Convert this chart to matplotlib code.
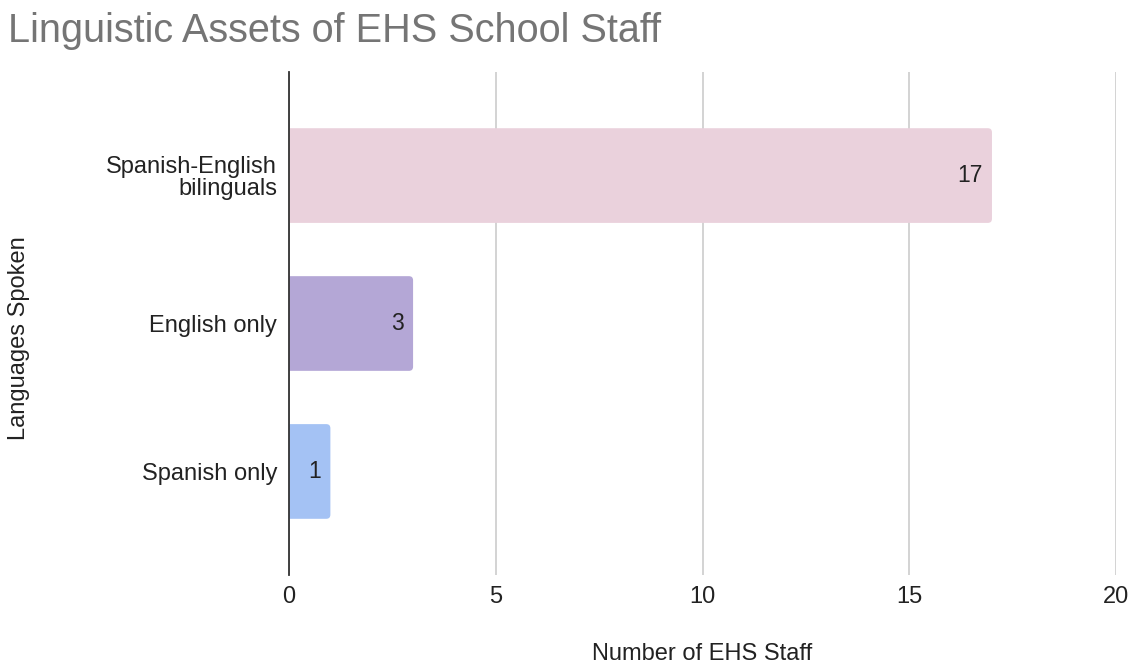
import matplotlib.pyplot as plt
from matplotlib.patches import FancyBboxPatch

plt.rcParams['font.family'] = ['Liberation Sans', 'DejaVu Sans']

categories = ['Spanish-English\nbilinguals', 'English only', 'Spanish only']
counts = [17, 3, 1]
bar_colors = ['#EAD1DC', '#B4A7D6', '#A4C2F4']
xticks = [0, 5, 10, 15, 20]

fig = plt.figure(figsize=(11.33, 6.66), dpi=100)
ax = fig.add_axes([0.2551, 0.1366, 0.7299, 0.7553])

ypos = list(range(len(categories)))
bars = ax.barh(ypos, counts, height=0.64, color=bar_colors, zorder=3)

# swap plain bars for slightly rounded ones (left end hidden behind the axis)
for b, c in zip(bars, bar_colors):
    x0, y0, w, h = b.get_x(), b.get_y(), b.get_width(), b.get_height()
    b.set_visible(False)
    ax.add_patch(FancyBboxPatch((x0 - 0.3, y0), w + 0.3, h,
                                boxstyle='round,pad=0,rounding_size=0.1',
                                mutation_aspect=0.28, facecolor=c,
                                edgecolor='none', zorder=3))

for b, v in zip(bars, counts):
    ax.text(b.get_width() - 0.22, b.get_y() + b.get_height() / 2, str(v),
            ha='right', va='center', fontsize=16.5, color='#222222', zorder=4)

ax.set_xlim(0, 20)
ax.set_ylim(2.7, -0.7)
ax.set_xticks(xticks)
ax.set_yticks(ypos)
ax.set_yticklabels(categories, fontsize=17, color='#222222', linespacing=1.0)
ax.tick_params(axis='x', labelsize=17, colors='#222222', length=0, pad=8)
ax.tick_params(axis='y', length=0, pad=8.5)

ax.grid(axis='x', color='#CCCCCC', linewidth=1.2, zorder=0)
for s in ['top', 'right', 'bottom']:
    ax.spines[s].set_visible(False)
ax.spines['left'].set_color('#333333')
ax.spines['left'].set_linewidth(1.3)
ax.spines['left'].set_zorder(5)

ax.set_xlabel('Number of EHS Staff', fontsize=17, color='#222222', labelpad=25)
ax.set_ylabel('Languages Spoken', fontsize=17, color='#222222')
ax.yaxis.set_label_coords(-0.313, 0.471, transform=ax.transAxes)

fig.text(0.007, 0.953, 'Linguistic Assets of EHS School Staff', fontsize=28.5,
         color='#757575', ha='left', va='center')

fig.savefig('out.png', dpi=100)
